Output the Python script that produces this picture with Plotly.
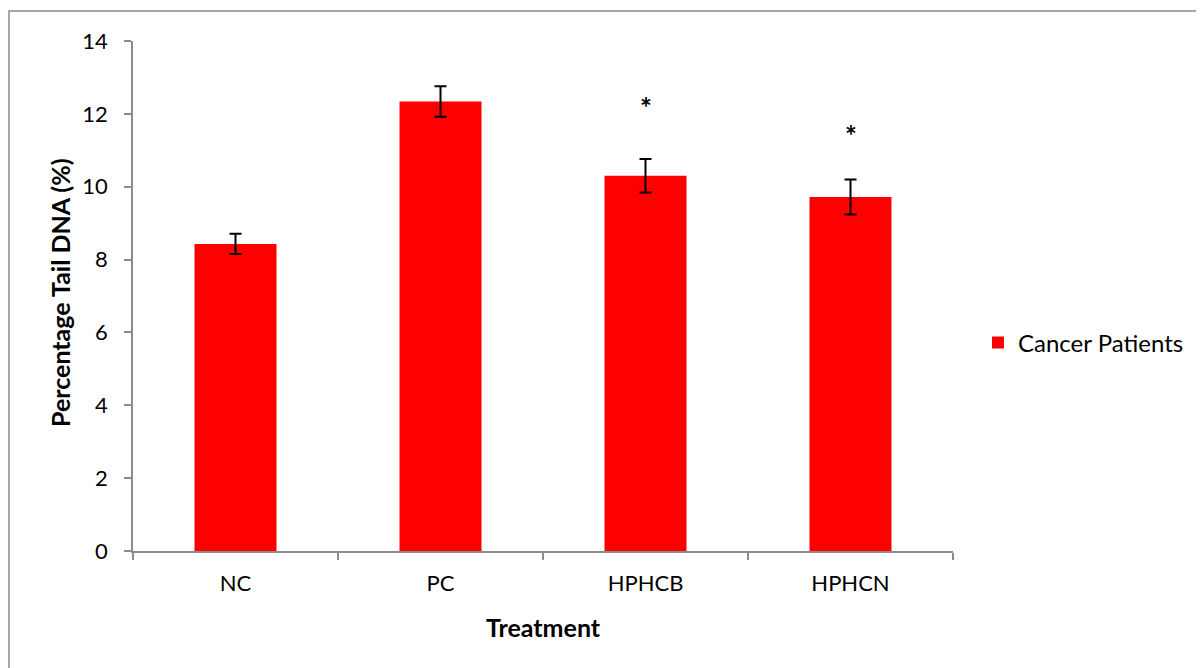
import plotly.graph_objects as go

categories = ["NC", "PC", "HPHCB", "HPHCN"]
values = [8.43, 12.34, 10.30, 9.72]
errors = [0.28, 0.42, 0.46, 0.48]
star_labels = ["", "", "*", "*"]
star_y = [None, None, 12.20, 11.43]
y_ticks = [0, 2, 4, 6, 8, 10, 12, 14]

FONT = "Lato, Calibri, 'Noto Sans', sans-serif"
AXIS_COLOR = "#8c8c8c"

# page has an 8px body margin; plot area target: x 133..953, y 41..551 (page px)
L, T, PW, PH = 125, 33, 820, 510
W, H = 1196, 660

fig = go.Figure()
fig.add_trace(go.Bar(
    x=categories, y=values, name="Cancer Patients",
    marker=dict(color="#ff0000", line=dict(width=0)),
    width=0.4,
    error_y=dict(type="data", array=errors, visible=True,
                 color="black", thickness=2, width=6),
))

for c, s, y in zip(categories, star_labels, star_y):
    if s:
        fig.add_annotation(x=c, y=y, text="<b>" + s + "</b>", showarrow=False,
                           font=dict(size=28, color="black", family=FONT),
                           xref="x", yref="y")

# axis titles
fig.add_annotation(x=0.5, y=(551 - 627) / PH, xref="paper", yref="paper", text="<b>Treatment</b>",
                   showarrow=False, font=dict(size=25, color="black", family=FONT),
                   yanchor="middle")
fig.add_annotation(x=(60 - 133) / PW, y=(551 - 293) / PH, xref="paper", yref="paper",
                   text="<b>Percentage Tail DNA (%)</b>",
                   showarrow=False, textangle=-90,
                   font=dict(size=25, color="black", family=FONT), xanchor="center",
                   yanchor="middle")

# outer border
fig.add_shape(type="rect", xref="paper", yref="paper",
              x0=(9 - 133) / PW, x1=(1202 - 133) / PW, y0=-0.4, y1=(551 - 11) / PH,
              line=dict(color=AXIS_COLOR, width=1.5), fillcolor="rgba(0,0,0,0)", layer="below")

fig.update_layout(
    width=W, height=H,
    margin=dict(l=L, r=W - L - PW, t=T, b=H - T - PH),
    paper_bgcolor="white", plot_bgcolor="white",
    font=dict(family=FONT, size=22, color="black"),
    showlegend=True,
    legend=dict(x=(978 - 133) / PW, y=(551 - 343) / PH, xanchor="left", yanchor="middle",
                font=dict(size=24, family=FONT, color="black"),
                itemwidth=30, traceorder="normal"),
    xaxis=dict(type="category", tickson="boundaries", ticks="outside", ticklen=7,
               tickcolor=AXIS_COLOR, tickwidth=1.5,
               showline=True, linecolor=AXIS_COLOR, linewidth=1.5,
               tickfont=dict(size=22, family=FONT, color="black"),
               ticklabelstandoff=12,
               showgrid=False),
    yaxis=dict(range=[0, 14], tickvals=y_ticks, ticks="outside", ticklen=7,
               tickcolor=AXIS_COLOR, tickwidth=1.5,
               showline=True, linecolor=AXIS_COLOR, linewidth=1.5,
               tickfont=dict(size=22, family=FONT, color="black"),
               ticklabelstandoff=12,
               showgrid=False, zeroline=False),
    bargap=0.6,
)

fig.write_html("out.html")
